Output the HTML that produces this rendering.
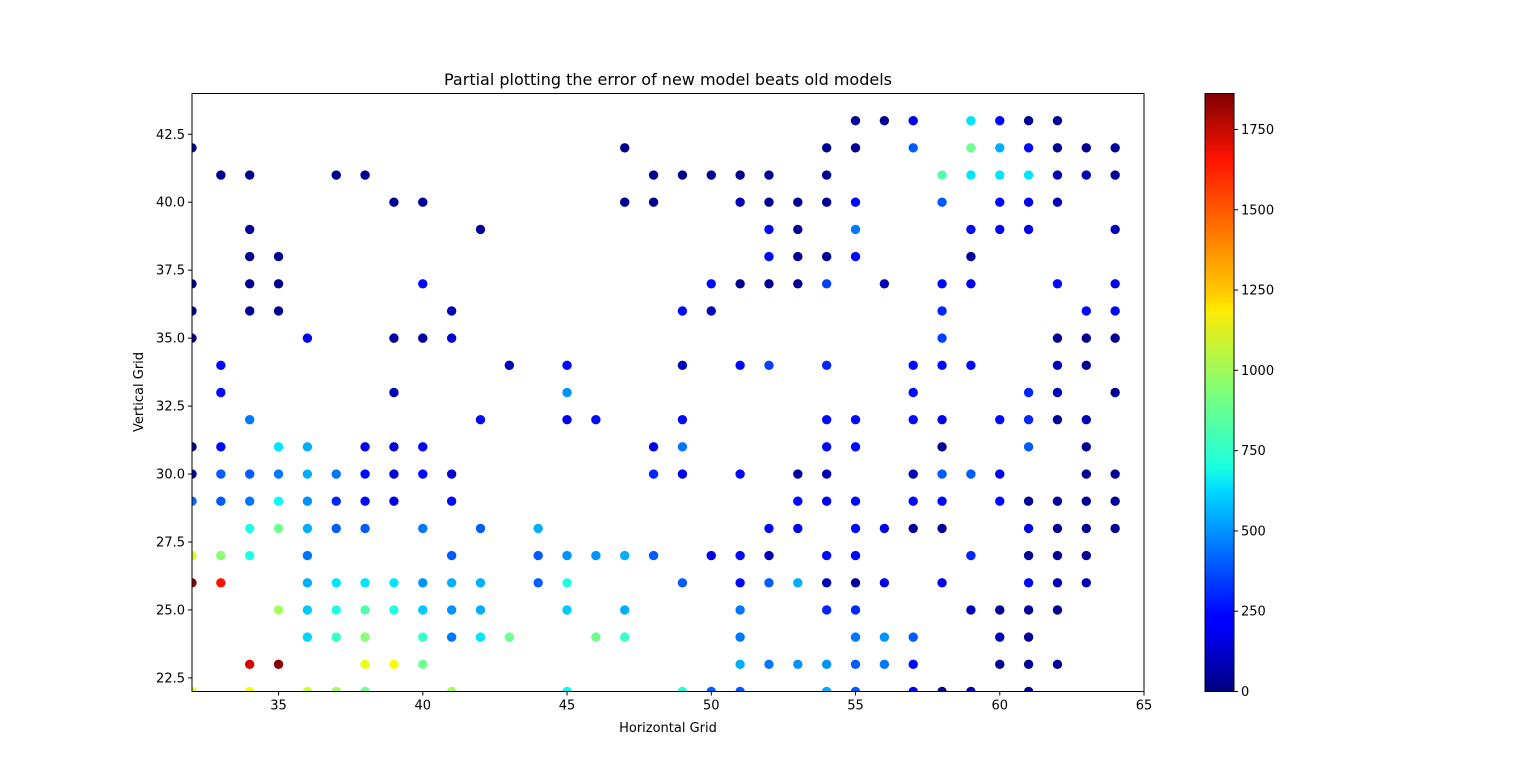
<!DOCTYPE html>
<html><head><meta charset="utf-8">
<style>
body{margin:0;background:#fff;}
svg text{font-family:"DejaVu Sans","Liberation Sans",sans-serif;fill:#000;}
</style></head>
<body>
<svg id="chart" width="1536" height="777" viewBox="0 0 1536 777" xmlns="http://www.w3.org/2000/svg">
<defs>
<clipPath id="plotclip"><rect x="192" y="93.5" width="952" height="598"/></clipPath>
<linearGradient id="jetgrad" x1="0" y1="1" x2="0" y2="0">
<stop offset="0" stop-color="#00007f"/><stop offset="0.11" stop-color="#0000ff"/>
<stop offset="0.125" stop-color="#0000ff"/><stop offset="0.34" stop-color="#00ddff"/>
<stop offset="0.375" stop-color="#19ffe0"/><stop offset="0.5" stop-color="#7dff7a"/>
<stop offset="0.64" stop-color="#ffea00"/><stop offset="0.66" stop-color="#ffd000"/>
<stop offset="0.89" stop-color="#ff1300"/><stop offset="1" stop-color="#7f0000"/>
</linearGradient>
</defs>
<text x="668" y="85" font-size="16" text-anchor="middle">Partial plotting the error of new model beats old models</text>
<g id="points" clip-path="url(#plotclip)"></g>
<rect x="192" y="93.5" width="952" height="598" fill="none" stroke="#000" stroke-width="1"/>
<g id="xaxis"></g>
<g id="yaxis"></g>
<text x="668" y="732" font-size="13" text-anchor="middle">Horizontal Grid</text>
<text x="143" y="392" font-size="13" text-anchor="middle" transform="rotate(-90 143 392)">Vertical Grid</text>
<rect x="1205" y="93.5" width="29" height="598" fill="url(#jetgrad)" stroke="#000" stroke-width="1"/>
<g id="cbaxis"></g>
</svg>
<script>
const columnX = [32,33,34,35,36,37,38,39,40,41,42,43,44,45,46,47,48,49,50,51,52,53,54,55,56,57,58,59,60,61,62,63,64];
const columnYs = [
[42,37,36,35,31,30,29,27,26,22],
[41,34,33,31,30,29,27,26],
[41,39,38,37,36,32,30,29,28,27,23,22],
[38,37,36,31,30,29,28,25,23],
[35,31,30,29,28,27,26,25,24,22],
[41,30,29,28,26,25,24,22],
[41,31,30,29,28,26,25,24,23,22],
[40,35,33,31,30,29,26,25,23],
[40,37,35,31,30,28,26,25,24,23],
[36,35,30,29,27,26,25,24,22],
[39,32,28,26,25,24],
[34,24],
[28,27,26],
[34,33,32,27,26,25,22],
[32,27,24],
[42,40,27,25,24],
[41,40,31,30,27],
[41,36,34,32,31,30,26,22],
[41,37,36,27,22],
[41,40,37,34,30,27,26,25,24,23,22],
[41,40,39,38,37,34,28,27,26,23],
[40,39,38,37,30,29,28,26,23],
[42,41,40,38,37,34,32,31,30,29,27,26,25,23,22],
[43,42,40,39,38,32,31,29,28,27,26,25,24,23,22],
[43,37,28,26,24,23],
[43,42,34,33,32,30,29,28,24,23,22],
[41,40,37,36,35,34,32,31,30,29,28,26,22],
[43,42,41,39,38,37,34,30,27,25,22],
[43,42,41,40,39,32,30,29,25,24,23],
[43,42,41,40,39,33,32,31,29,28,27,26,25,24,23,22],
[43,42,41,40,37,35,34,33,32,29,28,27,26,25,23],
[42,41,36,35,34,32,31,30,29,28,27,26],
[42,41,39,37,36,35,33,30,29,28]
];
const columnErrs = [
[30,30,30,30,40,60,420,1080,1850,1130],
[40,250,250,250,400,400,950,1600],
[30,30,30,30,30,450,400,450,750,750,1700,1150],
[30,30,30,650,450,700,900,1000,1850],
[200,550,550,500,550,450,550,600,620,1080],
[30,450,300,400,650,750,800,1000],
[30,200,250,250,400,650,850,950,1130,900],
[40,50,100,150,150,200,650,750,1150],
[40,250,50,200,250,450,500,600,800,900],
[100,150,150,250,400,550,500,450,1000],
[40,250,400,550,550,650],
[100,900],
[550,400,400],
[250,500,200,500,750,600,700],
[250,500,900],
[30,30,550,550,800],
[30,30,200,300,400],
[30,250,100,250,450,200,400,750],
[30,250,100,200,400],
[30,100,30,250,250,250,250,450,450,550,400],
[30,30,250,250,40,350,250,100,400,450],
[40,40,40,40,60,250,200,550,500],
[40,40,40,40,350,300,250,250,100,200,250,100,300,500,550],
[40,40,250,450,250,250,250,250,250,250,40,300,450,400,400],
[40,100,200,200,500,450],
[200,400,250,250,250,100,250,40,400,250,200],
[850,400,250,300,350,250,200,40,400,250,40,200,40],
[650,900,650,250,60,200,250,400,300,100,100],
[250,550,650,250,200,250,200,250,40,100,40],
[40,250,650,200,200,300,300,400,40,200,40,250,40,40,40,40],
[40,40,100,100,250,40,100,100,40,40,40,40,100,40,40],
[40,100,250,40,40,100,40,40,40,40,40,100],
[40,40,100,200,250,40,40,40,40,40]
];
const xTicks = [35,40,45,50,55,60,65];
const yTicks = [22.5,25.0,27.5,30.0,32.5,35.0,37.5,40.0,42.5];
const cbTicks = [0,250,500,750,1000,1250,1500,1750];
const X0=32,X1=65,Y0=22,Y1=44,VMAX=1862;
const PL=192,PR=1144,PT=93.5,PB=691.5;
function sx(v){return PL+(v-X0)/(X1-X0)*(PR-PL);}
function sy(v){return PB-(v-Y0)/(Y1-Y0)*(PB-PT);}
function cy(v){return PB-v/VMAX*(PB-PT);}
function jet(v){
  const t=Math.max(0,Math.min(1,v/VMAX));
  const c=x=>Math.round(255*Math.max(0,Math.min(1,x)));
  return `rgb(${c(1.5-Math.abs(4*t-3))},${c(1.5-Math.abs(4*t-2))},${c(1.5-Math.abs(4*t-1))})`;
}
const NS="http://www.w3.org/2000/svg";
const gp=document.getElementById('points');
columnX.forEach((x,i)=>{
  columnYs[i].forEach((y,j)=>{
    const c=document.createElementNS(NS,'circle');
    c.setAttribute('cx',sx(x));c.setAttribute('cy',sy(y));c.setAttribute('r',4.7);
    c.setAttribute('fill',jet(columnErrs[i][j]));
    
    
    gp.appendChild(c);
  });
});
const gx=document.getElementById('xaxis');
xTicks.forEach(t=>{
  const l=document.createElementNS(NS,'line');
  l.setAttribute('x1',sx(t));l.setAttribute('x2',sx(t));l.setAttribute('y1',PB);l.setAttribute('y2',PB+4);l.setAttribute('stroke','#000');
  gx.appendChild(l);
  const tx=document.createElementNS(NS,'text');
  tx.setAttribute('x',sx(t));tx.setAttribute('y',PB+18);tx.setAttribute('font-size','13');tx.setAttribute('text-anchor','middle');
  tx.textContent=t;
  
  
  gx.appendChild(tx);
});
const gy=document.getElementById('yaxis');
yTicks.forEach(t=>{
  const l=document.createElementNS(NS,'line');
  l.setAttribute('x1',PL-4);l.setAttribute('x2',PL);l.setAttribute('y1',sy(t));l.setAttribute('y2',sy(t));l.setAttribute('stroke','#000');
  gy.appendChild(l);
  const tx=document.createElementNS(NS,'text');
  tx.setAttribute('x',PL-7);tx.setAttribute('y',sy(t)+4.5);tx.setAttribute('font-size','13');tx.setAttribute('text-anchor','end');
  tx.textContent=t.toFixed(1);
  
  
  gy.appendChild(tx);
});
const gc=document.getElementById('cbaxis');
cbTicks.forEach(t=>{
  const l=document.createElementNS(NS,'line');
  l.setAttribute('x1',1234);l.setAttribute('x2',1238);l.setAttribute('y1',cy(t));l.setAttribute('y2',cy(t));l.setAttribute('stroke','#000');
  gc.appendChild(l);
  const tx=document.createElementNS(NS,'text');
  tx.setAttribute('x',1241);tx.setAttribute('y',cy(t)+4.5);tx.setAttribute('font-size','13');
  tx.textContent=t;
  
  
  gc.appendChild(tx);
});
</script>
</body></html>
